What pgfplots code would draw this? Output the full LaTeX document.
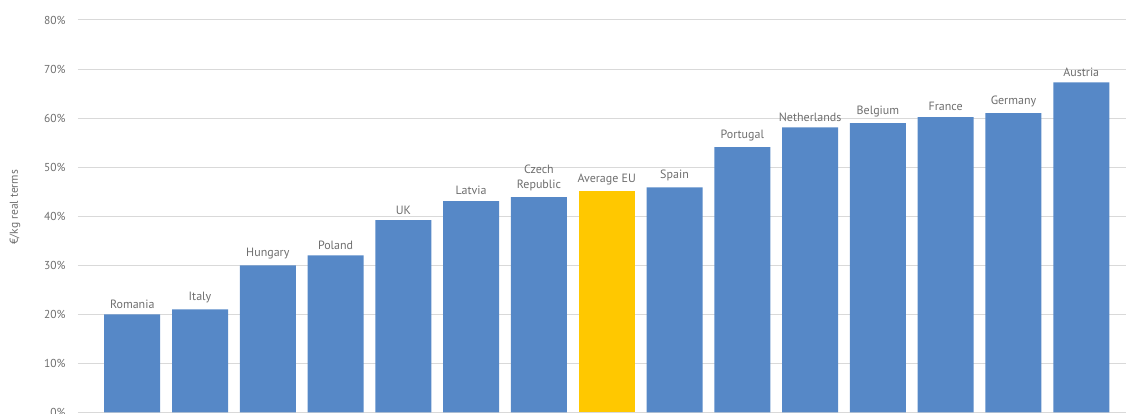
\documentclass[border=0pt]{standalone}
\usepackage{pgfplots}
\pgfplotsset{compat=1.18}
\usepackage{fontspec}
\setmainfont{PT Sans}
\definecolor{barblue}{RGB}{86,136,199}
\definecolor{baryellow}{RGB}{255,200,0}
\definecolor{txtgray}{RGB}{110,110,110}
\definecolor{gridgray}{RGB}{217,217,217}
\begin{document}
\begin{tikzpicture}
\begin{axis}[name=ax, scale only axis, width=1048pt, height=392.5pt,
  xmin=-0.8, xmax=14.66, ymin=0, ymax=80,
  ytick={0,10,...,80},
  yticklabel={\pgfmathprintnumber{\tick}\%},
  xtick=\empty,
  ymajorgrids, grid style={gridgray, line width=1pt},
  axis line style={draw=none}, major tick length=0pt,
  /pgf/number format/assume math mode=true,
  yticklabel style={font=\fontsize{11.5}{13}\selectfont, text=txtgray, xshift=-9pt},
  ylabel={€/kg real terms},
  ylabel style={font=\fontsize{11.5}{13}\selectfont, text=txtgray, at={(axis description cs:-0.0601,0.523)}, anchor=center},
  ybar, bar width=56pt, bar shift=0pt,
  nodes near coords, point meta=explicit symbolic,
  every node near coord/.append style={font=\fontsize{12}{15}\selectfont, text=txtgray, align=center, anchor=south, yshift=2.5pt},
  clip=false]
\addplot[fill=barblue, draw=none] coordinates {
  (0,20)[Romania] (1,21)[Italy] (2,30)[Hungary] (3,32)[Poland] (4,39.2)[UK]
  (5,43.1)[Latvia] (6,43.9)[{Czech\\Republic}]
  (8,45.9)[Spain] (9,54.1)[Portugal] (10,58.1)[Netherlands] (11,59)[Belgium]
  (12,60.2)[France] (13,61)[Germany] (14,67.3)[Austria]
};
\addplot[fill=baryellow, draw=none] coordinates {(7,45.1)[Average EU]};
\end{axis}
\pgfresetboundingbox
\useasboundingbox ([xshift=-78pt,yshift=-1.5pt]ax.south west) rectangle ([yshift=20pt]ax.north east);
\end{tikzpicture}
\end{document}
